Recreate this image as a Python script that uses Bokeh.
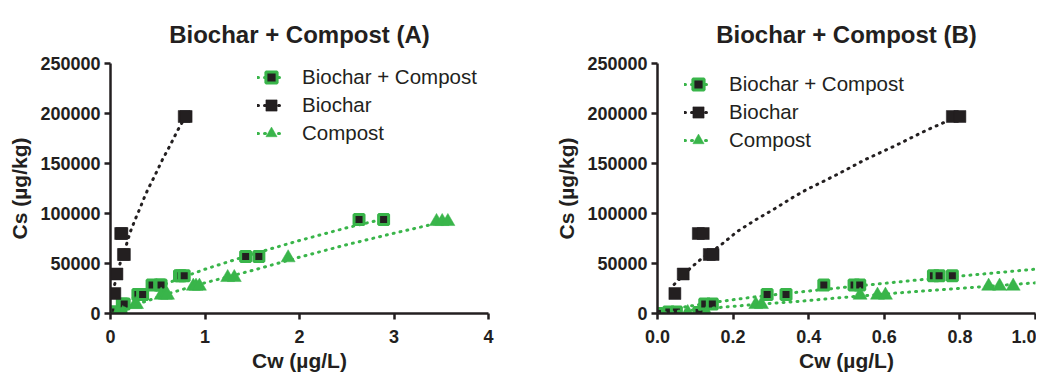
from bokeh.plotting import figure
from bokeh.layouts import row
from bokeh.models import Range1d, FixedTicker, NumeralTickFormatter, BasicTickFormatter, Legend, LegendItem
from bokeh.embed import file_html
from bokeh.resources import INLINE

# ---------------- data ----------------
bc_x = [0.0, 0.03, 0.05, 0.11, 0.125, 0.145, 0.29, 0.34, 0.44, 0.52, 0.535,
        0.73, 0.745, 0.78, 1.43, 1.57, 2.63, 2.89]
bc_y = [0, 1500, 1500, 1000, 9500, 9500, 19000, 19000, 28500, 28500, 28500,
        37700, 37700, 37700, 57000, 57000, 94000, 94000]

biochar_x = [0.046, 0.068, 0.108, 0.121, 0.137, 0.147, 0.78, 0.80]
biochar_y = [20000, 39500, 80000, 80000, 59000, 59000, 197000, 197000]

compost_x = [0.08, 0.13, 0.26, 0.275, 0.536, 0.582, 0.603, 0.876, 0.905, 0.941,
             1.24, 1.31, 1.88, 3.45, 3.51, 3.57]
compost_y = [1000, 0, 9000, 9000, 18300, 18300, 18300, 27300, 27300, 27300,
             36000, 36000, 55700, 92000, 92000, 92000]

# fitted curves
bc_fit_x = [0.0, 0.05, 0.13, 0.25, 0.38, 0.55, 0.71, 0.99, 1.5, 2.0, 2.5, 2.89]
bc_fit_y = [0, 5100, 10200, 16300, 21700, 28300, 34300, 44000, 59300, 73000, 85700, 94500]

biochar_fit_x = [0.044, 0.086, 0.117, 0.166, 0.211, 0.261, 0.311, 0.362, 0.395,
                 0.47, 0.55, 0.63, 0.71, 0.80]
biochar_fit_y = [29000, 45000, 55000, 68000, 82000, 94000, 105000, 117000, 124000,
                 138000, 154000, 168000, 183000, 198000]

compost_fit_x = [0.0, 0.1, 0.25, 0.38, 0.48, 0.64, 0.82, 1.0, 1.5, 2.0, 2.5, 3.0, 3.33, 3.57]
compost_fit_y = [0, 3900, 8800, 12300, 15700, 20700, 25700, 30700, 43000, 56300,
                 68800, 80300, 87500, 92800]

y_ticks = [0, 50000, 100000, 150000, 200000, 250000]
x_ticks_a = [0, 1, 2, 3, 4]
x_ticks_b = [0.0, 0.2, 0.4, 0.6, 0.8, 1.0]
series_names = ["Biochar + Compost", "Biochar", "Compost"]
titles = ["Biochar + Compost (A)", "Biochar + Compost (B)"]

GREEN = "#39b54a"
BLACK = "#231f20"
FONT = "Liberation Sans"
H = 374


def make_plot(title, x_end, x_ticks, fmt, width, border_left, border_top, frame_h,
              legend_loc):
    p = figure(width=width, height=H, output_backend="svg", toolbar_location=None,
               x_range=Range1d(0, x_end), y_range=Range1d(0, 250000),
               min_border_left=border_left, min_border_top=border_top,
               min_border_right=width - border_left - 378,
               min_border_bottom=H - border_top - frame_h)
    p.title.text = title
    p.title.align = "center"
    p.title.text_font = FONT
    p.title.text_font_size = "24px"
    p.title.text_font_style = "bold"
    p.title.text_color = BLACK
    p.title.standoff = 32
    p.outline_line_color = None
    p.xgrid.visible = False
    p.ygrid.visible = False

    for ax in (p.xaxis[0], p.yaxis[0]):
        ax.axis_line_width = 2.5
        ax.axis_line_color = BLACK
        ax.major_tick_line_width = 2.5
        ax.major_tick_line_color = BLACK
        ax.major_tick_in = 0
        ax.major_tick_out = 6
        ax.minor_tick_line_color = None
        ax.major_label_text_font = FONT
        ax.major_label_text_font_size = "18px"
        ax.major_label_text_font_style = "bold"
        ax.major_label_text_color = BLACK
        ax.axis_label_text_font = FONT
        ax.axis_label_text_font_size = "21px"
        ax.axis_label_text_font_style = "bold"
        ax.axis_label_text_color = BLACK

    p.xaxis.ticker = FixedTicker(ticks=x_ticks)
    p.xaxis.formatter = fmt
    p.yaxis.ticker = FixedTicker(ticks=y_ticks)
    p.yaxis.formatter = BasicTickFormatter(use_scientific=False)
    p.xaxis.axis_label = "Cw (µg/L)"
    p.yaxis.axis_label = "Cs (µg/kg)"
    p.yaxis.major_label_standoff = 4
    p.yaxis.axis_label_standoff = 6
    p.xaxis.major_label_standoff = 10
    p.xaxis.axis_label_standoff = 3

    dash = dict(line_dash="1 6", line_cap="round", line_width=3)
    l1 = p.line(bc_fit_x, bc_fit_y, line_color=GREEN, **dash)
    m1 = p.scatter(bc_x, bc_y, marker="square", size=10, fill_color=BLACK,
                   line_color=GREEN, line_width=3)
    l2 = p.line(biochar_fit_x, biochar_fit_y, line_color=BLACK, **dash)
    m2 = p.scatter(biochar_x, biochar_y, marker="square", size=12, fill_color=BLACK,
                   line_color=BLACK, line_width=0.5)
    l3 = p.line(compost_fit_x, compost_fit_y, line_color=GREEN, **dash)
    m3 = p.scatter(compost_x, compost_y, marker="triangle", size=14, fill_color=GREEN,
                   line_color=GREEN, line_width=0.5)

    legend = Legend(items=[LegendItem(label=series_names[0], renderers=[l1, m1]),
                           LegendItem(label=series_names[1], renderers=[l2, m2]),
                           LegendItem(label=series_names[2], renderers=[l3, m3])],
                    location=legend_loc)
    legend.border_line_color = None
    legend.background_fill_alpha = 0
    legend.padding = 0
    legend.margin = 0
    legend.spacing = 0
    legend.glyph_width = 28
    legend.glyph_height = 28
    legend.label_height = 28
    legend.label_standoff = 17
    legend.label_text_font = FONT
    legend.label_text_font_size = "20.5px"
    legend.label_text_color = BLACK
    p.add_layout(legend)
    return p


p1 = make_plot(titles[0], 4, x_ticks_a, NumeralTickFormatter(format="0"),
               533, 110, 63, 250, (147, 166))
p2 = make_plot(titles[1], 1.0, x_ticks_b, NumeralTickFormatter(format="0.0"),
               503, 124, 63, 251, (27, 159))

layout = row(p1, p2)
open("out.html", "w").write(file_html(layout, INLINE))
